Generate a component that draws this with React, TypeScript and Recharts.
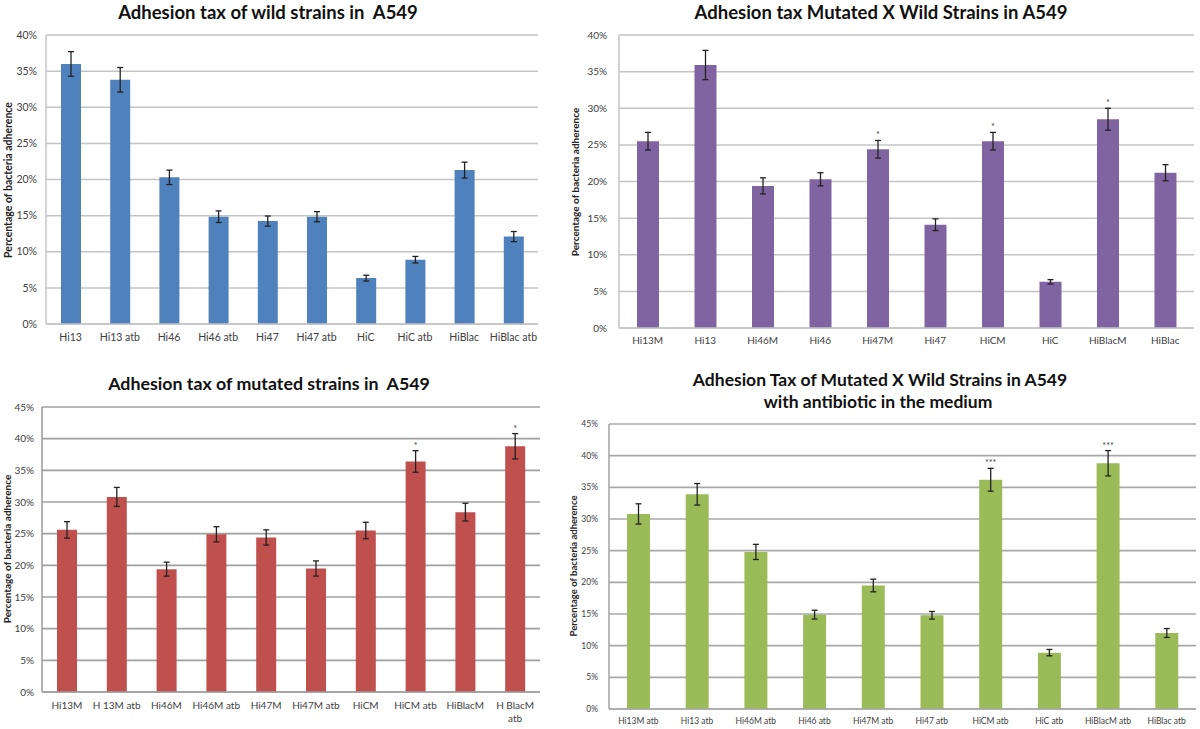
import React from 'react';
import { BarChart, Bar, XAxis, YAxis, CartesianGrid, ErrorBar, LabelList } from 'recharts';

// ---------- Data ----------
const wildCats = ['Hi13', 'Hi13 atb', 'Hi46', 'Hi46 atb', 'Hi47', 'Hi47 atb', 'HiC', 'HiC atb', 'HiBlac', 'HiBlac atb'];
const wildVals = [36.0, 33.8, 20.3, 14.85, 14.25, 14.85, 6.35, 8.9, 21.3, 12.1];
const wildErr = [1.7, 1.7, 1.0, 0.8, 0.7, 0.7, 0.4, 0.45, 1.1, 0.7];
const wildSig = ['', '', '', '', '', '', '', '', '', ''];

const mxwCats = ['Hi13M', 'Hi13', 'Hi46M', 'Hi46', 'Hi47M', 'Hi47', 'HiCM', 'HiC', 'HiBlacM', 'HiBlac'];
const mxwVals = [25.5, 35.9, 19.4, 20.3, 24.4, 14.1, 25.5, 6.3, 28.5, 21.2];
const mxwErr = [1.2, 2.0, 1.1, 0.9, 1.2, 0.8, 1.2, 0.3, 1.5, 1.1];
const mxwSig = ['', '', '', '', '*', '', '*', '', '*', ''];

const mutCats = ['Hi13M', 'H 13M atb', 'Hi46M', 'Hi46M atb', 'Hi47M', 'Hi47M atb', 'HiCM', 'HiCM atb', 'HiBlacM', 'H BlacM atb'];
const mutVals = [25.6, 30.8, 19.4, 24.9, 24.4, 19.5, 25.5, 36.4, 28.4, 38.8];
const mutErr = [1.3, 1.5, 1.1, 1.2, 1.2, 1.2, 1.3, 1.7, 1.4, 2.0];
const mutSig = ['', '', '', '', '', '', '', '*', '', '*'];

const atbCats = ['Hi13M atb', 'Hi13 atb', 'Hi46M atb', 'Hi46 atb', 'Hi47M atb', 'Hi47 atb', 'HiCM atb', 'HiC atb', 'HiBlacM atb', 'HiBlac atb'];
const atbVals = [30.8, 33.9, 24.8, 14.9, 19.5, 14.8, 36.2, 8.9, 38.8, 12.0];
const atbErr = [1.6, 1.7, 1.2, 0.7, 1.0, 0.6, 1.8, 0.5, 2.0, 0.7];
const atbSig = ['', '', '', '', '', '', '***', '', '***', ''];

const ticks40 = [0, 5, 10, 15, 20, 25, 30, 35, 40];
const ticks45 = [0, 5, 10, 15, 20, 25, 30, 35, 40, 45];

const titles = [
  'Adhesion tax of wild strains in  A549',
  'Adhesion tax Mutated X Wild Strains in A549',
  'Adhesion tax of mutated strains in  A549',
  'Adhesion Tax of Mutated X Wild Strains in A549',
  'with antibiotic in the medium',
];
const yLabel = 'Percentage of bacteria adherence';

const FONT = 'Lato, "Open Sans", sans-serif';

type PanelProps = {
  left: number; top: number; width: number; height: number;
  margin: { top: number; right: number; bottom: number; left: number };
  yWidth: number; xHeight: number; xTickMargin: number; yTickMargin: number;
  cats: string[]; vals: number[]; errs: number[]; sigs: string[];
  ticks: number[]; color: string; gridColor: string; gridWidth: number;
  barSize: number; wrapAt: number; fontSize: number;
};

function Panel(p: PanelProps) {
  const data = p.cats.map((c, i) => ({ name: c, value: p.vals[i], err: p.errs[i], sig: p.sigs[i] }));
  const maxV = p.ticks[p.ticks.length - 1];

  const XTick = (tp: any) => {
    const { x, y, payload } = tp;
    const label: string = payload.value;
    let lines = [label];
    if (label.length > p.wrapAt) {
      const k = label.lastIndexOf(' ');
      lines = [label.slice(0, k), label.slice(k + 1)];
    }
    return (
      <text x={x} y={y} textAnchor="middle" fill="#404040" fontSize={p.fontSize} fontFamily={FONT}>
        {lines.map((l, i) => (
          <tspan key={i} x={x} dy={i === 0 ? '0.71em' : 13}>{l}</tspan>
        ))}
      </text>
    );
  };

  const SigLabel = (lp: any) => {
    const { x, y, width, height, value, index } = lp;
    if (!value) return null;
    const v = p.vals[index];
    const e = p.errs[index];
    const pxPerUnit = height / v;
    const top = y - e * pxPerUnit;
    return (
      <text x={x + width / 2} y={top - 2} textAnchor="middle" fill="#404040" fontSize={9} fontFamily={FONT}>
        {value}
      </text>
    );
  };

  return (
    <div style={{ position: 'absolute', left: p.left, top: p.top }}>
      <BarChart width={p.width} height={p.height} data={data} margin={p.margin} barCategoryGap="10%">
        <CartesianGrid vertical={false} stroke={p.gridColor} strokeWidth={p.gridWidth} />
        <XAxis
          dataKey="name"
          height={p.xHeight}
          tickLine={false}
          tickSize={0}
          tickMargin={p.xTickMargin}
          axisLine={{ stroke: p.gridColor, strokeWidth: p.gridWidth }}
          interval={0}
          tick={XTick}
        />
        <YAxis
          width={p.yWidth}
          domain={[0, maxV]}
          ticks={p.ticks}
          tickLine={false}
          tickSize={0}
          tickMargin={p.yTickMargin}
          axisLine={{ stroke: p.gridColor, strokeWidth: p.gridWidth }}
          tickFormatter={(v: number) => `${v}%`}
          tick={{ fill: '#404040', fontSize: p.fontSize, fontFamily: FONT }}
        />
        <Bar dataKey="value" fill={p.color} barSize={p.barSize} isAnimationActive={false}>
          <ErrorBar dataKey="err" width={3} stroke="#222" strokeWidth={1.3} direction="y" />
          <LabelList dataKey="sig" content={SigLabel} />
        </Bar>
      </BarChart>
    </div>
  );
}

function Title({ text, cx, cy, size }: { text: string; cx: number; cy: number; size: number }) {
  return (
    <div style={{
      position: 'absolute', left: cx - 300, top: cy - 11, width: 600, height: 22, lineHeight: '22px',
      textAlign: 'center', fontFamily: FONT, fontWeight: 700, fontSize: size, color: '#111', whiteSpace: 'pre',
    }}>{text}</div>
  );
}

function YLab({ cx, cy, size }: { cx: number; cy: number; size: number }) {
  return (
    <div style={{
      position: 'absolute', left: cx, top: cy, transform: 'translate(-50%, -50%) rotate(-90deg)',
      fontFamily: FONT, fontWeight: 700, fontSize: size, color: '#222', whiteSpace: 'nowrap', lineHeight: '11px',
    }}>{yLabel}</div>
  );
}

export default function App() {
  return (
    <div style={{ position: 'absolute', left: 0, top: 0, width: 1200, height: 729, background: '#fff', overflow: 'hidden' }}>
      {/* Panel 1: wild strains */}
      <Panel left={0} top={0} width={560} height={360}
        margin={{ top: 35, right: 22, bottom: 6, left: 0 }}
        yWidth={46} xHeight={30} xTickMargin={10} yTickMargin={9}
        cats={wildCats} vals={wildVals} errs={wildErr} sigs={wildSig}
        ticks={ticks40} color="#4f81bd" gridColor="#c4c4c4" gridWidth={1.5}
        barSize={20} wrapAt={20} fontSize={10.5} />
      {/* Panel 2: mutated x wild */}
      <Panel left={560} top={0} width={640} height={360}
        margin={{ top: 35, right: 6, bottom: 2, left: 0 }}
        yWidth={59} xHeight={30} xTickMargin={9} yTickMargin={12}
        cats={mxwCats} vals={mxwVals} errs={mxwErr} sigs={mxwSig}
        ticks={ticks40} color="#8064a2" gridColor="#c4c4c4" gridWidth={1.5}
        barSize={22} wrapAt={20} fontSize={10} />
      {/* Panel 3: mutated strains */}
      <Panel left={0} top={360} width={560} height={369}
        margin={{ top: 47, right: 20, bottom: 7, left: 0 }}
        yWidth={42} xHeight={30} xTickMargin={10} yTickMargin={8}
        cats={mutCats} vals={mutVals} errs={mutErr} sigs={mutSig}
        ticks={ticks45} color="#c0504d" gridColor="#a0a0a0" gridWidth={1.6}
        barSize={20} wrapAt={10} fontSize={10} />
      {/* Panel 4: with antibiotic */}
      <Panel left={560} top={360} width={640} height={369}
        margin={{ top: 64, right: 4, bottom: 0, left: 0 }}
        yWidth={49} xHeight={20} xTickMargin={9} yTickMargin={11}
        cats={atbCats} vals={atbVals} errs={atbErr} sigs={atbSig}
        ticks={ticks45} color="#9bbb59" gridColor="#a8a8a8" gridWidth={1.6}
        barSize={23} wrapAt={20} fontSize={8.5} />

      <Title text={titles[0]} cx={268} cy={12} size={18.5} />
      <Title text={titles[1]} cx={881} cy={12} size={18.5} />
      <Title text={titles[2]} cx={269} cy={383} size={17.8} />
      <Title text={titles[3]} cx={880} cy={380} size={17.5} />
      <Title text={titles[4]} cx={878} cy={402} size={17.5} />

      <YLab cx={8} cy={180} size={10.5} />
      <YLab cx={575} cy={182} size={10} />
      <YLab cx={7} cy={549} size={10} />
      <YLab cx={573} cy={566} size={9.5} />
    </div>
  );
}
